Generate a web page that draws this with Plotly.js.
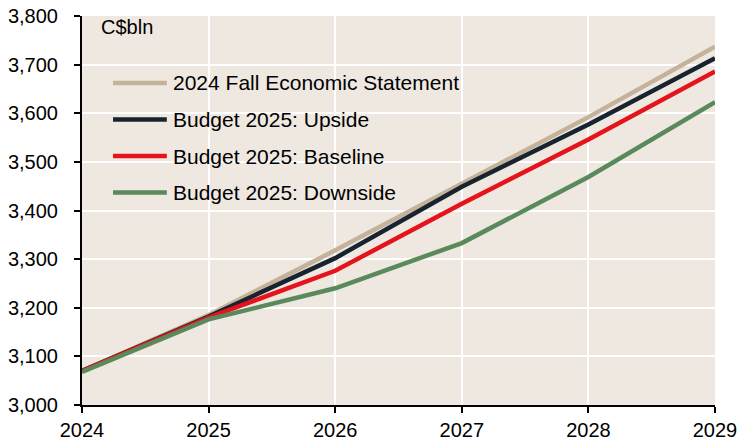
<!DOCTYPE html>
<html><head><meta charset="utf-8">
<script src="https://cdn.plot.ly/plotly-3.0.1.min.js"></script>
<style>html,body{margin:0;padding:0;background:#fff}#chart{width:738px;height:442px}</style>
</head><body><div id="chart"></div>
<script>
const years = [2024, 2025, 2026, 2027, 2028, 2029];
const seriesNames = ["2024 Fall Economic Statement", "Budget 2025: Upside", "Budget 2025: Baseline", "Budget 2025: Downside"];
const fes      = [3070, 3185, 3318, 3456, 3592, 3737];
const upside   = [3070, 3182, 3302, 3449, 3577, 3713];
const baseline = [3070, 3180, 3276, 3414, 3546, 3686];
const downside = [3068, 3176, 3240, 3333, 3469, 3623];
const colors = ["#C4B29A", "#17232F", "#E5141C", "#5A8A5C"];
const values = [fes, upside, baseline, downside];

const traces = values.map((v, i) => ({
  x: years, y: v, type: "scatter", mode: "lines", name: seriesNames[i],
  showlegend: false,
  line: {color: colors[i], width: 4.5}
}));

// custom legend (long line samples, as in the reference)
const legTop = 0.828, legStep = 0.094;
const shapes = [], annotations = [];
seriesNames.forEach((n, i) => {
  const yy = legTop - i * legStep;
  shapes.push({type: "line", xref: "paper", yref: "paper", x0: 0.049, x1: 0.134, y0: yy, y1: yy,
               line: {color: colors[i], width: 4.5}});
  annotations.push({text: n, xref: "paper", yref: "paper", x: 0.141, y: yy, xanchor: "left", yanchor: "middle",
                    showarrow: false, font: {size: 21, color: "#000"}});
});
annotations.push({text: "C$bln", xref: "paper", yref: "paper", x: 0.027, y: 0.972,
                  xanchor: "left", yanchor: "middle", showarrow: false, font: {size: 20, color: "#000"}});

const layout = {
  width: 738, height: 442,
  margin: {l: 82, r: 23, t: 16, b: 37},
  paper_bgcolor: "#ffffff", plot_bgcolor: "#EEE8E1",
  font: {family: "Liberation Sans, Arial, sans-serif", size: 20, color: "#000"},
  xaxis: {
    range: [2024, 2029], tickvals: years, ticktext: years.map(String),
    showgrid: true, gridcolor: "#ffffff", gridwidth: 2,
    showline: true, linecolor: "#000", linewidth: 2,
    ticks: "outside", ticklen: 6, tickcolor: "#000", tickwidth: 2,
    zeroline: false, tickfont: {size: 20}
  },
  yaxis: {
    range: [3000, 3800], dtick: 100, tickformat: ",",
    showgrid: true, gridcolor: "#ffffff", gridwidth: 2,
    showline: true, linecolor: "#000", linewidth: 2,
    ticks: "outside", ticklen: 6, tickcolor: "#000", tickwidth: 2,
    zeroline: false, tickfont: {size: 20}, ticklabelstandoff: 12
  },
  showlegend: false,
  shapes: shapes,
  annotations: annotations
};
Plotly.newPlot("chart", traces, layout, {displayModeBar: false, staticPlot: true});
</script></body></html>
